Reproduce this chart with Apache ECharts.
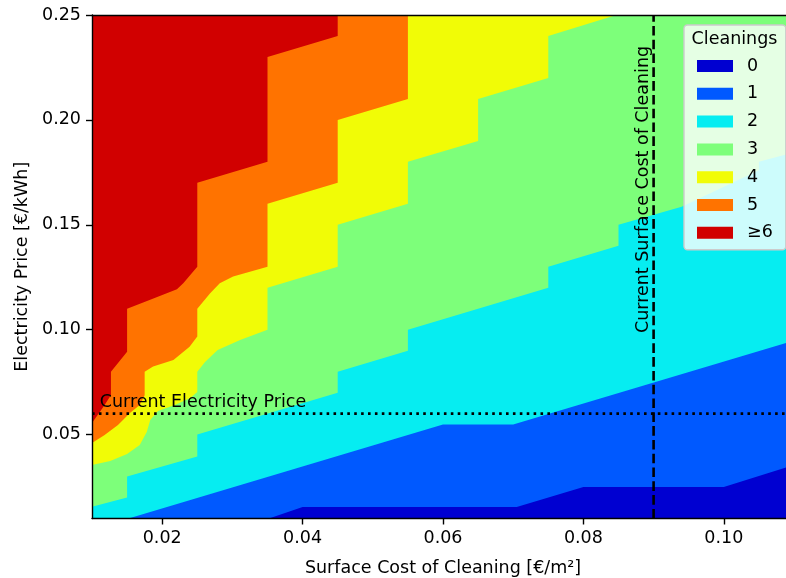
<!DOCTYPE html>
<html>
<head>
<meta charset="utf-8">
<script src="https://cdn.jsdelivr.net/npm/echarts@6/dist/echarts.min.js"></script>
<style>
  html, body { margin: 0; padding: 0; background: #ffffff; }
  #chart { width: 786px; height: 578px; }
</style>
</head>
<body>
<div id="chart"></div>
<script>
// Axis ranges and ticks
const X_MIN = 0.01, X_MAX = 0.11;
const Y_MIN = 0.01, Y_MAX = 0.25;
const xTicks = [0.02, 0.04, 0.06, 0.08, 0.10];
const yTicks = [0.05, 0.10, 0.15, 0.20, 0.25];

// Number of cleanings: level names and jet colours
const levelNames = ['0', '1', '2', '3', '4', '5', '≥6'];
const levelColors = ['#0000d1', '#0059ff', '#06edf1', '#7dff7a', '#f1fc06', '#ff7300', '#d10000'];

// Lower edge of each level region: [surface cost €/m², electricity price €/kWh]
const edge0 = [[X_MIN, Y_MIN], [X_MAX, Y_MIN]];
const edge1 = [[0.01, 0.01], [0.0352, 0.01], [0.04, 0.0155], [0.0705, 0.0155], [0.08, 0.025],
               [0.10, 0.025], [0.11, 0.0355]];
const edge2 = [[0.01, 0.0048], [0.06, 0.0548], [0.07, 0.0548], [0.11, 0.0948]];
const edge3 = [[0.01, 0.0156], [0.015, 0.02], [0.015, 0.03], [0.025, 0.0395], [0.025, 0.05],
               [0.045, 0.07], [0.045, 0.08], [0.055, 0.09], [0.055, 0.10], [0.075, 0.12],
               [0.075, 0.13], [0.085, 0.14], [0.085, 0.15], [0.094, 0.1586], [0.105, 0.176],
               [0.105, 0.18], [0.11, 0.1845]];
const edge4 = [[0.01, 0.0355], [0.0126, 0.0374], [0.015, 0.0408], [0.0168, 0.045], [0.0178, 0.0512],
               [0.0183, 0.057], [0.0194, 0.0613], [0.0218, 0.0641], [0.024, 0.0674], [0.025, 0.0703],
               [0.025, 0.08], [0.0261, 0.0846], [0.0279, 0.0903], [0.0311, 0.0951], [0.035, 0.10],
               [0.035, 0.12], [0.045, 0.13], [0.045, 0.15], [0.055, 0.16], [0.055, 0.18],
               [0.065, 0.19], [0.065, 0.21], [0.075, 0.22], [0.075, 0.24], [0.0847, 0.25]];
const edge5 = [[0.01, 0.046], [0.0118, 0.0498], [0.0137, 0.0546], [0.0154, 0.0603], [0.0168, 0.0641],
               [0.0175, 0.0688], [0.0175, 0.08], [0.0187, 0.0824], [0.0216, 0.0855], [0.0239, 0.0919],
               [0.025, 0.0967], [0.025, 0.11], [0.0268, 0.1173], [0.0282, 0.1221], [0.0301, 0.1253],
               [0.035, 0.13], [0.035, 0.16], [0.045, 0.17], [0.045, 0.20], [0.055, 0.21], [0.055, 0.25]];
const edge6 = [[0.01, 0.0555], [0.0108, 0.0593], [0.0118, 0.0641], [0.0127, 0.0689], [0.0127, 0.08],
               [0.015, 0.0895], [0.015, 0.11], [0.0182, 0.1142], [0.0221, 0.1193], [0.023, 0.1221],
               [0.025, 0.13], [0.025, 0.17], [0.035, 0.18], [0.035, 0.23], [0.045, 0.24], [0.045, 0.25]];
const levelEdges = [edge0, edge1, edge2, edge3, edge4, edge5, edge6];

// Current operating point
const currentSurfaceCost = 0.09;
const currentElectricityPrice = 0.06;
const electricityLabelAt = [0.0111, 0.0612];
const surfaceLabelAt = [0.0898, 0.0984];

const FONT = 'DejaVu Sans';
const FS = 17.5;

const chart = echarts.init(document.getElementById('chart'), null, { renderer: 'canvas' });

// Each level fills from its lower edge up to the top of the plot; higher levels drawn later
const levelSeries = levelEdges.map((edge, i) => ({
  type: 'line',
  name: levelNames[i],
  data: edge,
  symbol: 'none',
  showSymbol: false,
  color: levelColors[i],
  itemStyle: { color: levelColors[i] },
  lineStyle: { width: 0, color: levelColors[i] },
  areaStyle: { origin: 'end', color: levelColors[i], opacity: 1 },
  silent: true,
  animation: false,
  z: 2
}));

function textSeries(name, at, rotation, align, vAlign) {
  return {
    type: 'custom',
    name: name,
    data: [at],
    silent: true,
    animation: false,
    z: 6,
    renderItem: function (params, api) {
      const p = api.coord([api.value(0), api.value(1)]);
      return {
        type: 'text',
        x: p[0],
        y: p[1],
        rotation: rotation,
        style: {
          text: name,
          fontSize: FS,
          fontFamily: FONT,
          fill: '#000000',
          align: align,
          verticalAlign: vAlign
        }
      };
    }
  };
}

const axisLineStyle = { color: '#000000', width: 1.4 };

const option = {
  animation: false,
  backgroundColor: '#ffffff',
  textStyle: { fontFamily: FONT },
  grid: { left: 92, top: 15, width: 702, height: 503.5, outerBoundsMode: 'none', containLabel: false },
  graphic: [{
    type: 'text',
    x: 734.5,
    y: 39,
    z: 100,
    style: { text: 'Cleanings', align: 'center', verticalAlign: 'middle', fontSize: FS, fontFamily: FONT, fill: '#000000' }
  }],
  legend: {
    data: levelNames,
    orient: 'vertical',
    left: 684,
    top: 25,
    padding: [32, 13, 8, 13],
    itemWidth: 36,
    itemHeight: 12,
    itemGap: 9.8,
    icon: 'rect',
    selectedMode: false,
    backgroundColor: 'rgba(255,255,255,0.8)',
    borderColor: '#cccccc',
    borderWidth: 1.4,
    borderRadius: 3.5,
    itemStyle: { borderWidth: 0 },
    formatter: name => '{n|' + name + '}',
    textStyle: {
      fontSize: FS, fontFamily: FONT, color: '#000000', lineHeight: 17,
      rich: { n: { fontSize: FS, fontFamily: FONT, color: '#000000', lineHeight: 17, padding: [0, 0, 0, 9] } }
    }
  },
  xAxis: [{
    type: 'value',
    min: X_MIN,
    max: X_MAX,
    position: 'bottom',
    name: 'Surface Cost of Cleaning [€/m²]',
    nameLocation: 'middle',
    nameGap: 41,
    nameTextStyle: { fontSize: FS, fontFamily: FONT, color: '#000000' },
    axisLine: { show: true, onZero: false, lineStyle: axisLineStyle },
    axisTick: { show: true, customValues: xTicks, length: 6, lineStyle: axisLineStyle },
    axisLabel: { customValues: xTicks, formatter: v => v.toFixed(2), fontSize: FS, fontFamily: FONT, color: '#000000', margin: 11 },
    splitLine: { show: false },
    z: 10
  }, {
    type: 'value',
    min: X_MIN,
    max: X_MAX,
    position: 'top',
    axisLine: { show: true, onZero: false, lineStyle: axisLineStyle },
    axisTick: { show: false },
    axisLabel: { show: false },
    splitLine: { show: false },
    z: 10
  }],
  yAxis: [{
    type: 'value',
    min: Y_MIN,
    max: Y_MAX,
    position: 'left',
    name: 'Electricity Price [€/kWh]',
    nameLocation: 'middle',
    nameRotate: 90,
    nameGap: 58,
    nameTextStyle: { fontSize: FS, fontFamily: FONT, color: '#000000' },
    axisLine: { show: true, onZero: false, lineStyle: axisLineStyle },
    axisTick: { show: true, customValues: yTicks, length: 6, lineStyle: axisLineStyle },
    axisLabel: { customValues: yTicks, formatter: v => v.toFixed(2), fontSize: FS, fontFamily: FONT, color: '#000000', margin: 11 },
    splitLine: { show: false },
    z: 10
  }],
  series: levelSeries.concat([
    {
      type: 'line',
      name: 'Current Surface Cost of Cleaning',
      data: [[currentSurfaceCost, Y_MIN], [currentSurfaceCost, Y_MAX]],
      symbol: 'none',
      lineStyle: { color: '#000000', width: 2.6, type: [9.6, 4.2], cap: 'butt' },
      silent: true,
      animation: false,
      z: 5
    },
    {
      type: 'line',
      name: 'Current Electricity Price',
      data: [[X_MIN, currentElectricityPrice], [X_MAX, currentElectricityPrice]],
      symbol: 'none',
      lineStyle: { color: '#000000', width: 2.6, type: [2.6, 4.3], cap: 'butt' },
      silent: true,
      animation: false,
      z: 5
    },
    textSeries('Current Electricity Price', electricityLabelAt, 0, 'left', 'bottom'),
    textSeries('Current Surface Cost of Cleaning', surfaceLabelAt, Math.PI / 2, 'left', 'bottom')
  ])
};

chart.setOption(option);
</script>
</body>
</html>
